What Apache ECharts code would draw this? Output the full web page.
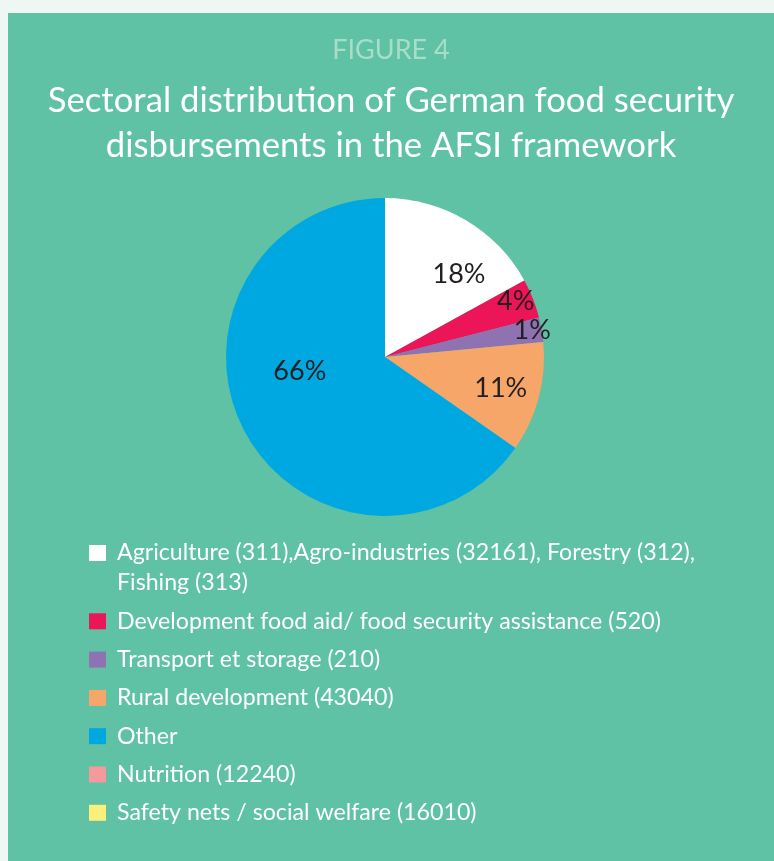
<!DOCTYPE html>
<html>
<head>
<meta charset="utf-8">
<script src="https://cdn.jsdelivr.net/npm/echarts@6/dist/echarts.min.js"></script>
<style>
    html, body {margin: 0; padding: 0; background: #eef7f3;}
    #chart {position: absolute; left: 8px; top: 13px; width: 766px; height: 848px;}
</style>
</head>
<body>
<div id="chart"></div>
<script>
    // sectors (legend order)
    const sectors = [
        'Agriculture (311),Agro-industries (32161), Forestry (312),\nFishing (313)',
        'Development food aid/ food security assistance (520)',
        'Transport et storage (210)',
        'Rural development (43040)',
        'Other',
        'Nutrition (12240)',
        'Safety nets / social welfare (16010)'
    ];
    // slice sizes (share of disbursements)
    const shares = [17.0, 4.0, 2.5, 11.2, 65.3, 0, 0];
    // printed percentage labels
    const shareLabels = ['18%', '4%', '1%', '11%', '66%', '', ''];
    const sectorColors = ['#ffffff', '#ec1558', '#8e72b1', '#f7a66a', '#00a8e1', '#f4999c', '#fdf07a'];
    // nudge labels to where the figure prints them
    const labelOffsets = [[32, -12], [54, -25], [66, -13], [36, 10], [-12, -24], [0, 0], [0, 0]];

    const font = 'Lato';
    let myChart = echarts.init(document.getElementById('chart'));

    let option = {
        backgroundColor: '#5fc2a4',
        title: [
            {
                text: 'FIGURE 4',
                left: 'center',
                top: 22,
                padding: 0,
                textStyle: {color: '#a8ddc8', fontSize: 27, lineHeight: 30, fontWeight: 'normal', fontFamily: font}
            },
            {
                text: 'Sectoral distribution of German food security\ndisbursements in the AFSI framework',
                left: 'center',
                top: 65,
                padding: 0,
                textStyle: {color: '#ffffff', fontSize: 34.7, lineHeight: 45, fontWeight: 'normal', fontFamily: font}
            }
        ],
        legend: {
            orient: 'vertical',
            left: 81,
            top: 495,
            padding: 0,
            icon: 'rect',
            itemWidth: 17,
            itemHeight: 16,
            itemGap: 8.3,
            selectedMode: false,
            // rich text so the top padding of the wrapped first entry pushes it down
            formatter: name => '{t|' + name + '}',
            textStyle: {
                fontSize: 23.2,
                lineHeight: 30,
                fontFamily: font,
                padding: [0, 0, 0, 6],
                rich: {t: {color: '#ffffff', fontSize: 23.2, lineHeight: 30, fontFamily: font}}
            },
            data: sectors.map((name, i) => i === 0
                ? {name: name, textStyle: {padding: [30, 0, 0, 6]}}
                : {name: name})
        },
        series: [
            {
                type: 'pie',
                center: [377, 344],
                radius: 159,
                startAngle: 90,
                clockwise: true,
                silent: true,
                itemStyle: {borderWidth: 0},
                label: {
                    position: 'inside',
                    color: '#231f20',
                    fontSize: 27,
                    fontFamily: font,
                    formatter: p => shareLabels[p.dataIndex]
                },
                labelLine: {show: false},
                data: sectors.map((name, i) => ({
                    name: name,
                    value: shares[i],
                    itemStyle: {color: sectorColors[i]},
                    label: {offset: labelOffsets[i]}
                }))
            }
        ]
    };

    myChart.setOption(option);
</script>
</body>
</html>
